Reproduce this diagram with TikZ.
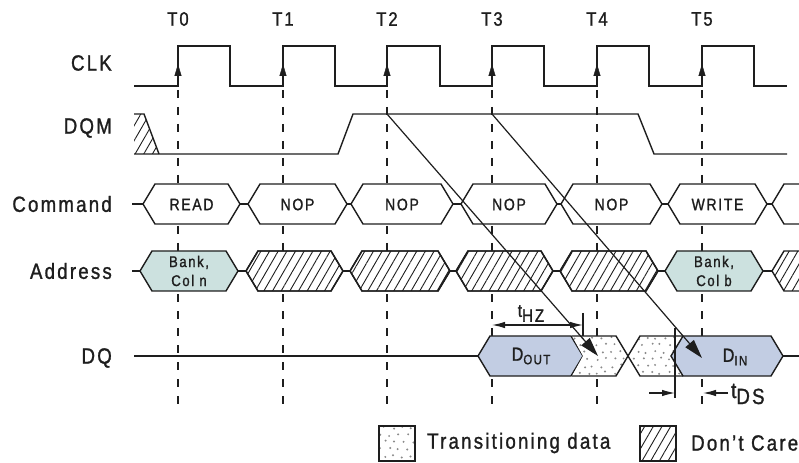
\documentclass[tikz,border=0pt]{standalone}
\usepackage{fontspec}
\setmainfont{Liberation Sans}[FakeStretch=0.85,LetterSpace=10,FakeBold=1.2]
\usetikzlibrary{arrows.meta,patterns.meta}
\definecolor{lineC}{HTML}{1E1E1E}
\definecolor{bankC}{HTML}{CCE1DF}
\definecolor{dataC}{HTML}{C2CDE3}
\definecolor{dotC}{HTML}{8A8A8A}
\newcommand\hexcell[4]{\draw[#1] (#2,#4) -- ({#2+12},{#4-20}) -- ({#3-12},{#4-20}) -- (#3,#4) -- ({#3-12},{#4+20}) -- ({#2+12},{#4+20}) -- cycle;}
\newcommand\dotgrid[4]{%
  \foreach \r in {0,...,#4}{%
    \foreach \c in {0,...,#2}{%
      \pgfmathsetmacro\px{#1+\c*9+mod(\r,2)*4.5+3*rnd-1.5}%
      \pgfmathsetmacro\py{#3+\r*7+3*rnd-1.5}%
      \fill[dotC] (\px,\py) circle[radius=1.1bp];
    }}}
\begin{document}
\begin{tikzpicture}[x=1bp,y=-1bp,
  wave/.style={line width=1.4bp,draw=lineC,line join=miter},
  gridl/.style={line width=1.1bp,draw=lineC,dash pattern=on 8bp off 9bp},
  hatchfill/.style={pattern={Lines[angle=60,distance=7.5bp,line width=0.9bp]},pattern color=lineC},
  lbl/.style={font=\fontsize{22bp}{24bp}\selectfont,anchor=east,inner sep=0pt,text=lineC},
  tl/.style={font=\fontsize{19.5bp}{20bp}\selectfont,inner sep=0pt,text=lineC},
  cell/.style={font=\fontsize{16.5bp}{18bp}\selectfont,inner sep=0pt,text=lineC},
  bank/.style={font=\fontsize{15.5bp}{19bp}\selectfont,inner sep=0pt,align=center,text=lineC},
  clkarrow/.style={draw=lineC,fill=lineC,-{Triangle[length=12bp,width=7bp]}},
  bigarrow/.style={line width=1.2bp,draw=lineC,-{Triangle[length=19bp,width=11bp]}},
  dimarrow/.style={line width=1.2bp,draw=lineC},
  ah/.style={-{Latex[length=13bp,width=6.5bp]}}
]
\useasboundingbox (0,0) rectangle (799,463);
% dashed clock reference lines
\foreach \t [count=\i from 0] in {178,283,387,492,597,702}{
  \coordinate (gtop\i) at (\t,90);
  \coordinate (gbot\i) at (\t,408);
  \draw[gridl] (gtop\i) -- (gbot\i);
  \node[tl] (T\i) at (\t,19) {T\i};
}
% CLK
\draw[wave] (134,86) -- (178,86) -- (178,46) -- (230,46) -- (230,86) -- (283,86) -- (283,46) -- (335,46) -- (335,86)
  -- (387,86) -- (387,46) -- (440,46) -- (440,86) -- (492,86) -- (492,46) -- (544,46) -- (544,86)
  -- (597,86) -- (597,46) -- (649,46) -- (649,86) -- (702,86) -- (702,46) -- (754,46) -- (754,86) -- (787,86);
\foreach \t in {178,283,387,492,597,702}{
  \draw[clkarrow] (\t,80) -- (\t,64);
}
% DQM
\fill[hatchfill] (134,114) -- (144,114) -- (159,154) -- (134,154) -- cycle;
\draw[wave] (134,114) -- (144,114) -- (159,154);
\draw[wave] (134,154) -- (338,154) -- (353,114) -- (638,114) -- (654,154) -- (787,154);
% Command row
\draw[wave] (132,204) -- (799,204);
\hexcell{wave,fill=white}{143}{240}{204}
\hexcell{wave,fill=white}{248}{347}{204}
\hexcell{wave,fill=white}{351}{453}{204}
\hexcell{wave,fill=white}{461}{557}{204}
\hexcell{wave,fill=white}{561}{662}{204}
\hexcell{wave,fill=white}{668}{767}{204}
\draw[wave,fill=white] (805,184) -- (784,184) -- (772,204) -- (784,224) -- (805,224);
\node[cell] (cmd0) at (191.5,204.5) {READ};
\node[cell] (cmd1) at (297.5,204.5) {NOP};
\node[cell] (cmd2) at (402,204.5) {NOP};
\node[cell] (cmd3) at (509,204.5) {NOP};
\node[cell] (cmd4) at (611.5,204.5) {NOP};
\node[cell] (cmd5) at (717.5,204.5) {WRITE};
% Address row
\draw[wave] (132,271) -- (799,271);
\hexcell{wave,fill=bankC}{140}{238}{271}
\hexcell{wave,fill=white}{246}{343}{271}
\hexcell{wave,hatchfill}{246}{343}{271}
\hexcell{wave,fill=white}{350}{450}{271}
\hexcell{wave,hatchfill}{350}{450}{271}
\hexcell{wave,fill=white}{456}{553}{271}
\hexcell{wave,hatchfill}{456}{553}{271}
\hexcell{wave,fill=white}{560}{658}{271}
\hexcell{wave,hatchfill}{560}{658}{271}
\hexcell{wave,fill=bankC}{665}{763}{271}
\fill[white] (805,251) -- (784,251) -- (772,271) -- (784,291) -- (805,291) -- cycle;
\fill[hatchfill] (805,251) -- (784,251) -- (772,271) -- (784,291) -- (805,291) -- cycle;
\draw[wave] (805,251) -- (784,251) -- (772,271) -- (784,291) -- (805,291);
\node[bank] (adr0) at (189,271) {Bank,\\Col n};
\node[bank] (adr5) at (714,271) {Bank,\\Col b};
% DQ row
\draw[wave] (134,356) -- (478,356);
\draw[wave] (783,356) -- (799,356);
\hexcell{wave,fill=dataC}{478}{583}{356}
\begin{scope}
  \clip (572,336) -- (616,336) -- (628,356) -- (616,376) -- (572,376) -- (583,356) -- cycle
        (640,336) -- (683,336) -- (671,356) -- (683,376) -- (640,376) -- (628,356) -- cycle;
  \fill[white] (570,330) rectangle (690,380);
  \pgfmathsetseed{11}
  \dotgrid{566}{14}{338}{5}
\end{scope}
\draw[wave] (572,336) -- (616,336) -- (640,376) -- (683,376);
\draw[wave] (572,376) -- (616,376) -- (640,336) -- (683,336);
\hexcell{wave,fill=dataC}{671}{783}{356}
\node[font=\fontsize{19bp}{20bp}\selectfont,inner sep=0pt,text=lineC] (dout) at (531,356)
  {D\raisebox{-3.5bp}{\fontsize{13.5bp}{14bp}\selectfont OUT}};
\node[font=\fontsize{19bp}{20bp}\selectfont,inner sep=0pt,text=lineC] (din) at (735,357)
  {D\raisebox{-3.5bp}{\fontsize{13.5bp}{14bp}\selectfont IN}};
% DQM -> DQ arrows
\coordinate (m2) at (387,114);
\coordinate (m3) at (492,114);
\coordinate (q4) at (598,356);
\coordinate (q5) at (702,358);
\draw[bigarrow] (m2) -- (q4);
\draw[bigarrow] (m3) -- (q5);
% tHZ
\coordinate (hzL) at (492,325);
\coordinate (hzR) at (583,325);
\coordinate (hzT) at (583,313);
\coordinate (hzB) at (583,336);
\draw[dimarrow] (hzT) -- (hzB);
\draw[dimarrow,{Latex[length=13bp,width=6.5bp]}-{Latex[length=13bp,width=6.5bp]}] (hzL) -- (hzR);
\node[font=\fontsize{18bp}{18bp}\selectfont,inner sep=0pt,text=lineC,anchor=south] (thz) at (531,322)
  {t\raisebox{-5bp}{HZ}};
% tDS
\coordinate (dsT) at (675,328);
\coordinate (dsB) at (675,398);
\coordinate (dsA) at (649,393);
\coordinate (dsC) at (675,393);
\coordinate (dsD) at (728,393);
\coordinate (dsE) at (703,393);
\draw[dimarrow] (dsT) -- (dsB);
\draw[dimarrow,ah] (dsA) -- (dsC);
\draw[dimarrow,ah] (dsD) -- (dsE);
\node[font=\fontsize{22bp}{24bp}\selectfont,inner sep=0pt,text=lineC,anchor=west] (tds) at (731,394)
  {t\raisebox{-6bp}{DS}};
% row labels
\node[lbl] (lclk) at (112,63) {CLK};
\node[lbl] (ldqm) at (112,128) {DQM};
\node[lbl] (lcmd) at (112,204) {Command};
\node[lbl] (ladr) at (112,271) {Address};
\node[lbl] (ldq) at (112,358) {DQ};
% legend
\begin{scope}
  \clip (379,426) rectangle (415,461);
  \pgfmathsetseed{5}
  \dotgrid{376}{5}{428}{5}
\end{scope}
\draw[line width=1.2bp,draw=lineC] (379,426) rectangle (415,461);
\node[lbl,anchor=west] (ltr) at (427,443) {Transitioning data};
\fill[hatchfill] (640,426) rectangle (676,461);
\draw[line width=1.2bp,draw=lineC] (640,426) rectangle (676,461);
\node[lbl,anchor=west] (ldc) at (691,443) {Don’t Care};
\end{tikzpicture}
\end{document}
